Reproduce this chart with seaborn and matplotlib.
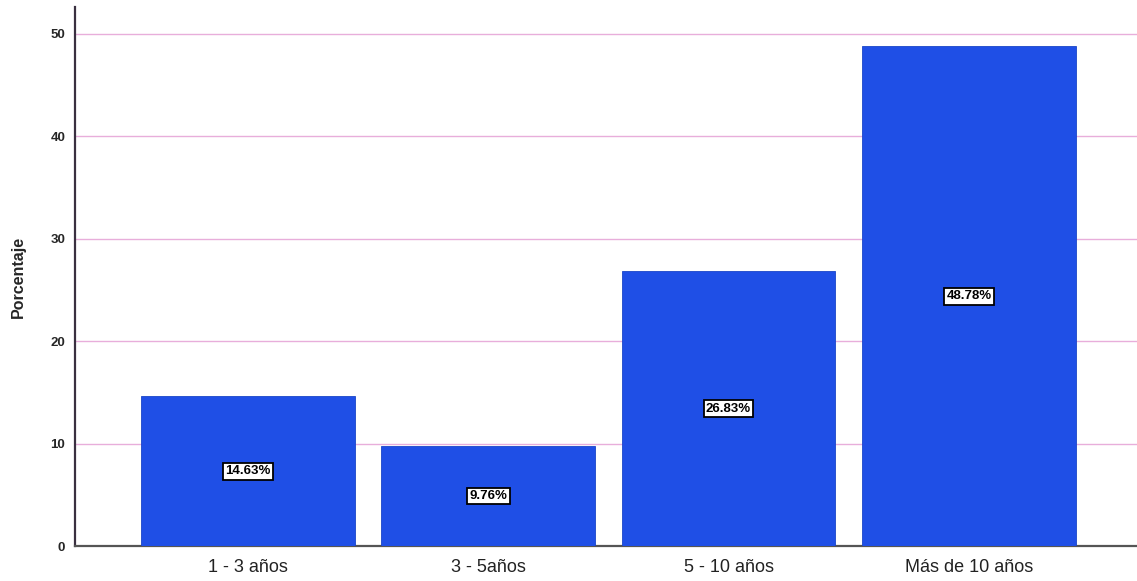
import matplotlib
matplotlib.use("Agg")
import matplotlib.pyplot as plt
import seaborn as sns
import pandas as pd

categories = ["1 - 3 años", "3 - 5años", "5 - 10 años", "Más de 10 años"]
values = [14.63, 9.76, 26.83, 48.78]
yticks = [0, 10, 20, 30, 40, 50]

sns.set_theme(style="white")
plt.rcParams['font.family'] = ['Liberation Sans', 'DejaVu Sans']

df = pd.DataFrame({"cat": categories, "val": values})

fig = plt.figure(figsize=(11.37, 5.81), dpi=100)
ax = fig.add_axes([0.066, 0.06, 0.934, 0.928])

sns.barplot(data=df, x="cat", y="val", color="#1F4FE6", saturation=1,
            width=0.89, ax=ax, zorder=3, edgecolor="#1A46C8", linewidth=0.6)

ax.set_xlim(-0.72, 3.70)
ax.set_ylim(0, 52.6)
ax.set_yticks(yticks)
ax.set_yticklabels([str(t) for t in yticks], fontsize=9.5, fontweight="bold")
ax.tick_params(axis="x", labelsize=13, length=0, pad=9)
ax.tick_params(axis="y", length=0, pad=7)
for lab in ax.get_xticklabels():
    lab.set_color("#222222")
ax.set_xlabel("")
ax.set_ylabel("Porcentaje", fontsize=11.5, fontweight="bold", labelpad=18)

ax.yaxis.grid(True, color="#E8AEDB", linewidth=1.0, zorder=0)
ax.set_axisbelow(True)

for s in ["top", "right"]:
    ax.spines[s].set_visible(False)
ax.spines["left"].set_color("#3a3040")
ax.spines["left"].set_linewidth(1.6)
ax.spines["bottom"].set_color("#555555")
ax.spines["bottom"].set_linewidth(1.6)

for i, v in enumerate(values):
    ax.text(i, v / 2, f"{v:.2f}%", ha="center", va="center", fontsize=9.5,
            fontweight="bold", color="black", zorder=5,
            bbox=dict(boxstyle="square,pad=0.18", facecolor="white",
                      edgecolor="black", linewidth=1.3))

fig.savefig("out.png", dpi=100)
